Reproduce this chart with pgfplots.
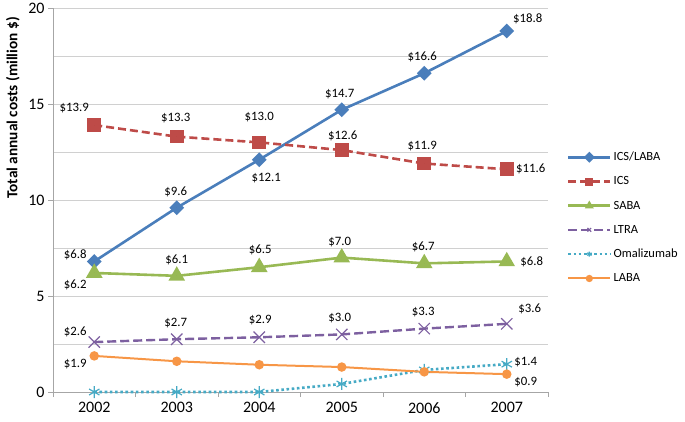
\documentclass[border=0pt]{standalone}
\usepackage{fontspec}
\setmainfont{Carlito}
\usepackage{pgfplots}
\pgfplotsset{compat=1.18}
\usepackage{pgfplotstable}

\definecolor{cICSLABA}{HTML}{4A7EBB}
\definecolor{cICS}{HTML}{BE4B48}
\definecolor{cSABA}{HTML}{98B954}
\definecolor{cLTRA}{HTML}{7D60A0}
\definecolor{cOMA}{HTML}{46AAC5}
\definecolor{cLABA}{HTML}{F79646}
\definecolor{axgray}{HTML}{A6A6A6}
\definecolor{gridgray}{HTML}{D0D0D0}

% year value label dx dy (label offsets in pt)
\pgfplotstableread{
x     y     lbl        dx   dy
2002  6.8   {\$6.8}   -19    7
2003  9.6   {\$9.6}    -1   16
2004  12.1  {\$12.1}    7  -18
2005  14.7  {\$14.7}   -2   16
2006  16.6  {\$16.6}   -2   16
2007  18.8  {\$18.8}   21   12
2002  13.9  {\$13.9}  -20   17
2003  13.3  {\$13.3}   -1   19
2004  13.0  {\$13.0}    0   25
2005  12.6  {\$12.6}    1   14
2006  11.9  {\$11.9}   -2   17
2007  11.6  {\$11.6}   24    0
2002  6.2   {\$6.2}   -19  -12
2003  6.05  {\$6.1}     0   16
2004  6.5   {\$6.5}     1   17
2005  7.0   {\$7.0}    -2   16
2006  6.7   {\$6.7}    -1   16
2007  6.8   {\$6.8}    25    0
2002  2.6   {\$2.6}   -19   10
2003  2.75  {\$2.7}    -1   16
2004  2.85  {\$2.9}     1   17
2005  3.0   {\$3.0}    -2   16
2006  3.3   {\$3.3}    -1   17
2007  3.55  {\$3.6}    23   15
2007  1.45  {\$1.4}    19    2
2002  1.88  {\$1.9}   -19   -8
2007  0.93  {\$0.9}    19   -8
}\labels

\begin{document}
\begin{tikzpicture}
\path[use as bounding box] (-53pt,-29pt) rectangle (632pt,392pt);
\begin{axis}[
    at={(0pt,0pt)}, anchor=south west,
    width=495pt, height=384pt, scale only axis,
    xmin=2001.5, xmax=2007.5, ymin=0, ymax=20,
    xtick={2002,2003,2004,2005,2006,2007},
    xticklabels={2002,2003,2004,2005,2006,2007},
    minor xtick={2001.5,2002.5,2003.5,2004.5,2005.5,2006.5,2007.5},
    ytick={0,5,10,15,20},
    yticklabels={0,5,10,15,20},
    minor ytick={2.5,7.5,12.5,17.5},
    ymajorgrids, yminorgrids,
    major grid style={gridgray, line width=0.9pt},
    minor grid style={gridgray, line width=0.9pt},
    axis lines*=left,
    axis line style={axgray, line width=0.9pt},
    tick align=outside,
    major tick length=5pt, minor tick length=5pt,
    tick style={axgray, line width=0.9pt},
    major x tick style={draw=none},
    minor y tick style={draw=none},
    ticklabel style={font=\fontsize{16}{19}\selectfont, text=black},
    xticklabel style={yshift=-2pt},
    ylabel={Total annual costs (million \$)},
    ylabel style={font=\fontsize{15.3}{18}\selectfont\bfseries,
        at={(axis description cs:-0.081,0.74)}, anchor=center},
    legend style={at={(axis description cs:1.036,0.633)}, anchor=north west,
        draw=none, fill=none, font=\fontsize{12.5}{14}\selectfont,
        row sep=10.5pt, inner sep=1pt},
    legend cell align=left,
    legend image code/.code={
        \draw[mark repeat=2,mark phase=2,#1]
            plot coordinates {(0pt,0pt) (21pt,0pt) (42pt,0pt)};},
    legend image post style={mark size=2.6pt},
    clip=false,
]
\addplot[cICSLABA, line width=2.6pt, mark=square*, mark size=3.9pt,
    mark options={rotate=45, solid}] coordinates {
    (2002,6.8) (2003,9.6) (2004,12.1) (2005,14.7) (2006,16.6) (2007,18.8)};
\addlegendentry{ICS/LABA}
\addplot[cICS, line width=2.6pt, dash pattern=on 8pt off 4pt, mark=square*,
    mark size=5.5pt, mark options={solid}] coordinates {
    (2002,13.9) (2003,13.3) (2004,13.0) (2005,12.6) (2006,11.9) (2007,11.6)};
\addlegendentry{ICS}
\addplot[cSABA, line width=2.6pt, mark=triangle*, mark size=7pt,
    mark options={solid}] coordinates {
    (2002,6.2) (2003,6.05) (2004,6.5) (2005,7.0) (2006,6.7) (2007,6.8)};
\addlegendentry{SABA}
\addplot[cLTRA, line width=2.4pt, dash pattern=on 9pt off 4pt, mark=x,
    mark size=8pt, mark options={solid, line width=1.2pt}] coordinates {
    (2002,2.6) (2003,2.75) (2004,2.85) (2005,3.0) (2006,3.3) (2007,3.55)};
\addlegendentry{LTRA}
\addplot[cOMA, line width=2.6pt, dash pattern=on 2.6pt off 2.6pt, mark=asterisk,
    mark size=6pt, mark options={solid, line width=1.2pt}] coordinates {
    (2002,0) (2003,0) (2004,0) (2005,0.42) (2006,1.15) (2007,1.45)};
\addlegendentry{Omalizumab}
\addplot[cLABA, line width=2pt, mark=*, mark size=3.7pt,
    mark options={solid}] coordinates {
    (2002,1.88) (2003,1.6) (2004,1.42) (2005,1.3) (2006,1.05) (2007,0.93)};
\addlegendentry{LABA}

\addplot[forget plot, only marks, mark=*, mark size=0pt,
    mark options={draw=none, fill=none},
    point meta=explicit symbolic,
    visualization depends on={\thisrow{dx}\as\ldx},
    visualization depends on={\thisrow{dy}\as\ldy},
    nodes near coords,
    nodes near coords style={anchor=center, xshift=\ldx pt, yshift=\ldy pt,
        font=\fontsize{12.8}{14}\selectfont, text=black, inner sep=0pt}]
    table[x=x, y=y, meta=lbl] {\labels};
\end{axis}
\end{tikzpicture}
\end{document}
